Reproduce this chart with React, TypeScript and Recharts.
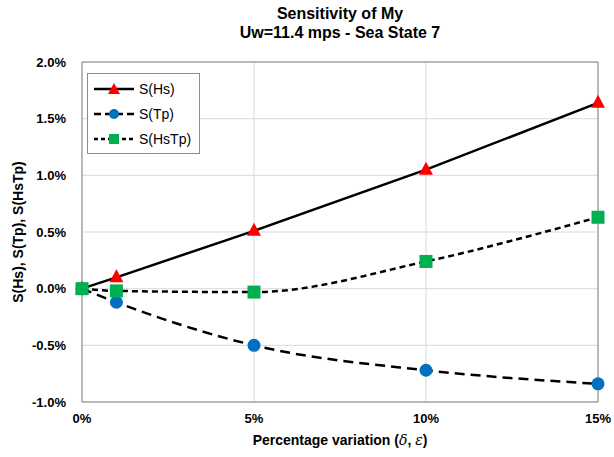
import {
  LineChart,
  Line,
  XAxis,
  YAxis,
  CartesianGrid,
  ReferenceLine,
  Label,
} from 'recharts'

const variation = [0, 1, 5, 10, 15]
const sHs = [0, 0.1, 0.51, 1.05, 1.64]
const sTp = [0, -0.12, -0.5, -0.72, -0.84]
const sHsTp = [0, -0.02, -0.03, 0.24, 0.63]
const xTicks = [0, 5, 10, 15]
const yTicks = [-1, -0.5, 0, 0.5, 1, 1.5, 2]

const data = variation.map((v, i) => ({
  v,
  hs: sHs[i],
  tp: sTp[i],
  hstp: sHsTp[i],
}))

const FONT = 'Liberation Sans, Arial, sans-serif'

const Triangle = (p: any) => {
  const { cx, cy } = p
  if (cx == null || cy == null) return null
  return <path d={`M${cx},${cy - 8} L${cx + 7},${cy + 5} L${cx - 7},${cy + 5} Z`} fill="#ff0000" />
}
const Circle = (p: any) => {
  const { cx, cy } = p
  if (cx == null || cy == null) return null
  return <circle cx={cx} cy={cy} r={6.5} fill="#0070c0" />
}
const Square = (p: any) => {
  const { cx, cy } = p
  if (cx == null || cy == null) return null
  return <rect x={cx - 6.5} y={cy - 6.5} width={13} height={13} fill="#00b050" />
}

const legendItems = [
  { name: 'S(Hs)', dash: undefined, marker: 'tri' },
  { name: 'S(Tp)', dash: '7 4', marker: 'circ' },
  { name: 'S(HsTp)', dash: '4 3', marker: 'sq' },
]

const LegendBox = () => (
  <div
    style={{
      position: 'absolute',
      left: 87,
      top: 73,
      border: '1px solid #8c8c8c',
      background: '#fff',
      width: 106,
      padding: '2px 0 2px 5px',
      fontFamily: FONT,
      fontSize: 14,
      color: '#000',
    }}
  >
    {legendItems.map((it) => (
      <div key={it.name} style={{ display: 'flex', alignItems: 'center', height: 25 }}>
        <svg width={42} height={16}>
          <line x1={1} y1={8} x2={41} y2={8} stroke="#000" strokeWidth={2.5} strokeDasharray={it.dash} />
          {it.marker === 'tri' && <path d="M21,2 L27,13 L15,13 Z" fill="#ff0000" />}
          {it.marker === 'circ' && <circle cx={21} cy={8} r={5} fill="#0070c0" />}
          {it.marker === 'sq' && <rect x={16} y={3} width={10} height={10} fill="#00b050" />}
        </svg>
        <span style={{ marginLeft: 4 }}>{it.name}</span>
      </div>
    ))}
  </div>
)

export default function App() {
  return (
    <div style={{ position: 'absolute', left: 0, top: 0, width: 614, height: 457, background: '#fff' }}>
      <div
        style={{
          position: 'absolute',
          left: 82,
          width: 516,
          top: 4,
          textAlign: 'center',
          fontFamily: FONT,
          fontWeight: 'bold',
          fontSize: 16,
          lineHeight: '19px',
          color: '#000',
        }}
      >
        Sensitivity of My
        <br />
        Uw=11.4 mps - Sea State 7
      </div>
      <LineChart
        width={614}
        height={457}
        data={data}
        margin={{ top: 62, right: 16, bottom: 33, left: 22 }}
        style={{ fontFamily: FONT }}
      >
        <CartesianGrid stroke="#d9d9d9" />
        <XAxis
          dataKey="v"
          type="number"
          domain={[0, 15]}
          ticks={xTicks}
          tickFormatter={(v: number) => `${v}%`}
          tick={{ fill: '#000', fontSize: 13, fontWeight: 'bold' }}
          stroke="#868686"
          tickLine={false}
          height={22}
          tickMargin={6}
        >
          <Label
            content={({ viewBox }: any) => (
              <text
                x={viewBox.x + viewBox.width / 2}
                y={viewBox.y + 43}
                textAnchor="middle"
                fontSize={14}
                fontWeight="bold"
                fill="#000"
              >
                Percentage variation (
                <tspan fontStyle="italic" fontWeight="normal" fontFamily="DejaVu Serif, serif">δ</tspan>
                ,{'  '}
                <tspan fontStyle="italic" fontWeight="normal" fontFamily="DejaVu Serif, serif">ε</tspan>)
              </text>
            )}
          />
        </XAxis>
        <YAxis
          type="number"
          domain={[-1, 2]}
          ticks={yTicks}
          tickFormatter={(v: number) => `${v.toFixed(1)}%`}
          tick={{ fill: '#000', fontSize: 13, fontWeight: 'bold' }}
          stroke="#868686"
          tickLine={false}
          width={60}
          tickMargin={10}
        >
          <Label
            value="S(Hs), S(Tp), S(HsTp)"
            angle={-90}
            position="insideLeft"
            offset={-4}
            style={{ textAnchor: 'middle', fontSize: 14, fontWeight: 'bold', fill: '#000' }}
          />
        </YAxis>
        <ReferenceLine y={2} stroke="#868686" />
        <ReferenceLine x={15} stroke="#868686" />
        <Line
          dataKey="tp"
          name="S(Tp)"
          type="monotone"
          stroke="#000"
          strokeWidth={2.5}
          strokeDasharray="10 6"
          dot={<Circle />}
          isAnimationActive={false}
        />
        <Line
          dataKey="hs"
          name="S(Hs)"
          type="linear"
          stroke="#000"
          strokeWidth={2.5}
          dot={<Triangle />}
          isAnimationActive={false}
        />
        <Line
          dataKey="hstp"
          name="S(HsTp)"
          type="monotone"
          stroke="#000"
          strokeWidth={2.5}
          strokeDasharray="6 4"
          dot={<Square />}
          isAnimationActive={false}
        />
      </LineChart>
      <LegendBox />
    </div>
  )
}
